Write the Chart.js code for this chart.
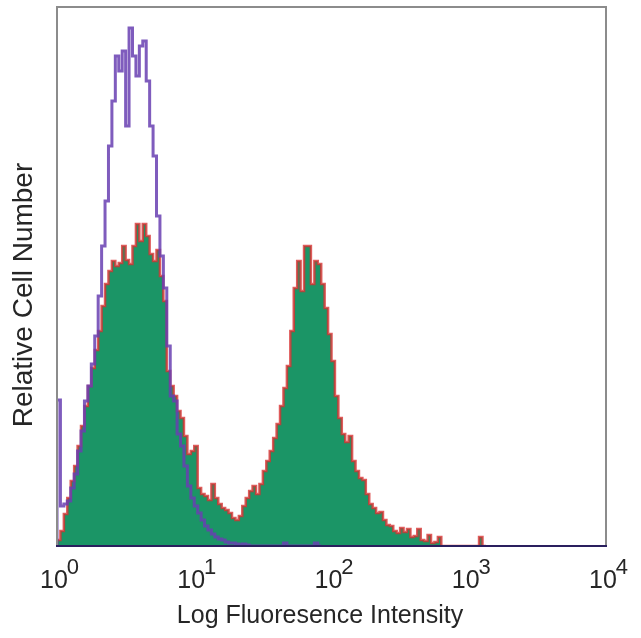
<!DOCTYPE html>
<html lang="en">
<head>
    <meta charset="UTF-8">
    <title>Relative Cell Number histogram</title>
    <script src="https://cdn.jsdelivr.net/npm/chart.js"></script>
    <style>
        body {
            margin: 0;
            background: #ffffff;
        }

        #histChart {
            display: block;
        }
    </style>
</head>
<body>
    <canvas id="histChart" width="641" height="638"></canvas>

    <script>
        // channel width in decades of the log fluorescence axis
        const BIN = 0.025;

        const decadeTicks = [1, 10, 100, 1000, 10000];
        const tickExponents = ['0', '1', '2', '3', '4'];

        // unstained / isotype control (purple outline)
        const controlCounts = [
            146, 40, 42, 45, 58, 72, 95, 115, 145, 160,
            182, 210, 250, 300, 345, 400, 445, 490, 475, 495,
            420, 518, 490, 470, 500, 505, 465, 420, 390, 330,
            290, 258, 200, 150, 145, 112, 100, 80, 60, 48,
            40, 33, 26, 20, 16, 12, 9, 7, 6, 4,
            3, 3, 2, 1, 2, 1, 0, 0, 0, 0,
            0, 0, 0, 0, 0, 0, 3, 0, 0, 0,
            0, 0, 0, 0, 0, 3, 0
        ];

        // stained sample (green fill, red outline)
        const stainedCounts = [
            6, 15, 32, 48, 65, 80, 100, 120, 140, 160,
            178, 196, 215, 240, 262, 275, 285, 280, 283, 300,
            286, 282, 300, 322, 305, 322, 310, 292, 285, 296,
            270, 245, 175, 160, 150, 135, 128, 110, 92, 95,
            100, 58, 52, 50, 46, 62, 48, 42, 38, 36,
            33, 28, 26, 30, 40, 48, 55, 60, 52, 62,
            75, 85, 95, 108, 122, 140, 158, 180, 215, 258,
            285, 255, 300, 300, 262, 285, 282, 262, 238, 212,
            185, 150, 128, 112, 104, 110, 85, 75, 68, 66,
            52, 42, 38, 33, 34, 26, 21, 20, 15, 13,
            18, 14, 17, 9, 10, 17, 6, 5, 11, 3,
            4, 9, 0, 0, 0, 0, 0, 0, 0, 0,
            0, 0, 0, 9, 0
        ];

        function toPoints(counts) {
            const pts = [{ x: 1, y: 0 }];
            counts.forEach((c, i) => pts.push({ x: Math.pow(10, i * BIN), y: c }));
            pts.push({ x: Math.pow(10, counts.length * BIN), y: 0 });
            return pts;
        }

        const frameAndLabels = {
            id: 'frameAndLabels',
            afterDatasetsDraw(chart) {
                const { ctx, chartArea: a, scales } = chart;
                ctx.save();

                // frame
                ctx.lineWidth = 2;
                ctx.strokeStyle = '#8c8c8c';
                ctx.beginPath();
                ctx.moveTo(a.left, a.bottom);
                ctx.lineTo(a.left, a.top);
                ctx.lineTo(a.right, a.top);
                ctx.lineTo(a.right, a.bottom);
                ctx.stroke();
                ctx.strokeStyle = '#2a1f5e';
                ctx.beginPath();
                ctx.moveTo(a.left - 1, a.bottom);
                ctx.lineTo(a.right + 1, a.bottom);
                ctx.stroke();

                // decade tick labels 10^n
                ctx.fillStyle = '#262626';
                ctx.textBaseline = 'alphabetic';
                ctx.textAlign = 'left';
                decadeTicks.forEach((v, i) => {
                    const px = scales.x.getPixelForValue(v);
                    ctx.font = '25px "Liberation Sans", Arial, sans-serif';
                    const wBase = ctx.measureText('10').width;
                    ctx.font = '22px "Liberation Sans", Arial, sans-serif';
                    const wExp = ctx.measureText(tickExponents[i]).width;
                    const x0 = px + 3 - (wBase + wExp) / 2;
                    ctx.font = '25px "Liberation Sans", Arial, sans-serif';
                    ctx.fillText('10', x0, 588);
                    ctx.font = '22px "Liberation Sans", Arial, sans-serif';
                    ctx.fillText(tickExponents[i], x0 + wBase - 1, 574);
                });

                // axis titles
                ctx.textAlign = 'center';
                ctx.font = '25px "Liberation Sans", Arial, sans-serif';
                ctx.fillText('Log Fluoresence Intensity', 320, 623);

                ctx.translate(32, 295);
                ctx.rotate(-Math.PI / 2);
                ctx.font = '28px "Liberation Sans", Arial, sans-serif';
                ctx.fillText('Relative Cell Number', 0, 0);

                ctx.restore();
            }
        };

        const ctx = document.getElementById('histChart').getContext('2d');
        const histChart = new Chart(ctx, {
            type: 'line',
            data: {
                datasets: [
                    {
                        label: 'Control',
                        data: toPoints(controlCounts),
                        stepped: true,
                        borderColor: 'rgba(104, 64, 178, 0.85)',
                        borderWidth: 3,
                        pointRadius: 0,
                        fill: false
                    },
                    {
                        label: 'Stained',
                        data: toPoints(stainedCounts),
                        stepped: true,
                        borderColor: 'rgba(215, 50, 50, 0.8)',
                        borderWidth: 2.5,
                        backgroundColor: 'rgb(27, 149, 102)',
                        pointRadius: 0,
                        fill: 'origin'
                    }
                ]
            },
            options: {
                responsive: false,
                animation: false,
                layout: {
                    padding: { left: 57, top: 7, right: 35, bottom: 92 }
                },
                plugins: {
                    legend: { display: false },
                    tooltip: { enabled: false }
                },
                scales: {
                    x: {
                        type: 'logarithmic',
                        min: 1,
                        max: 10000,
                        display: false
                    },
                    y: {
                        type: 'linear',
                        min: 0,
                        max: 539,
                        display: false
                    }
                }
            },
            plugins: [frameAndLabels]
        });
    </script>
</body>
</html>
